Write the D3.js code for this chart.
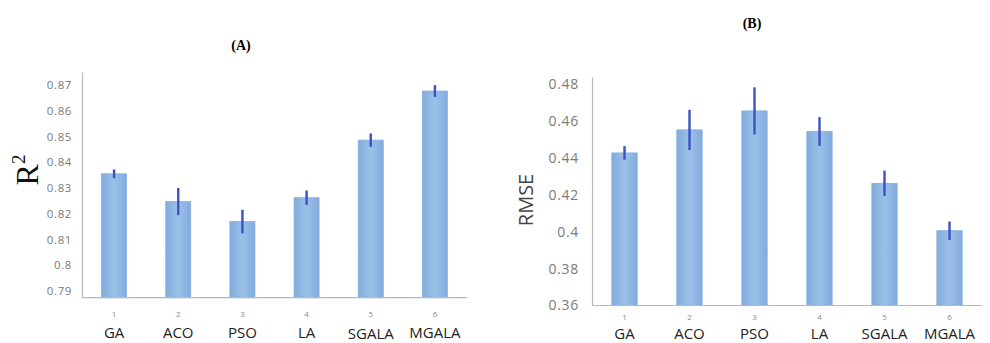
<!DOCTYPE html>
<html>
<head>
<meta charset="utf-8">
<script src="https://cdn.jsdelivr.net/npm/d3@7"></script>
<style>
  html, body { margin: 0; padding: 0; background: #fff; }
  svg { display: block; }
</style>
</head>
<body>
<svg id="chart" width="990" height="343"></svg>
<script>
// Algorithms compared in both panels
const categories = ["GA", "ACO", "PSO", "LA", "SGALA", "MGALA"];
const indices = ["1", "2", "3", "4", "5", "6"];

// Panel A: coefficient of determination (mean and error)
const r2Values = [0.8355, 0.8247, 0.8169, 0.8262, 0.8486, 0.8677];
const r2Errors = [0.0017, 0.0053, 0.0046, 0.0028, 0.0026, 0.0023];
const r2Ticks = [0.79, 0.80, 0.81, 0.82, 0.83, 0.84, 0.85, 0.86, 0.87];

// Panel B: root mean squared error (mean and error)
const rmseValues = [0.4428, 0.4553, 0.4656, 0.4544, 0.4263, 0.4006];
const rmseErrors = [0.0037, 0.0109, 0.0128, 0.0078, 0.0069, 0.0050];
const rmseTicks = [0.36, 0.38, 0.40, 0.42, 0.44, 0.46, 0.48];

const svg = d3.select("#chart");

// Soft horizontal shading for the bars
const defs = svg.append("defs");
const grad = defs.append("linearGradient").attr("id", "barFill")
  .attr("x1", "0%").attr("x2", "100%").attr("y1", "0%").attr("y2", "0%");
grad.append("stop").attr("offset", "0%").attr("stop-color", "#82abdd");
grad.append("stop").attr("offset", "50%").attr("stop-color", "#9cc0e8");
grad.append("stop").attr("offset", "100%").attr("stop-color", "#82abdd");

function panel(opts) {
  const g = svg.append("g");
  const x = d3.scaleBand().domain(categories).range(opts.xRange)
    .paddingInner(0.61).paddingOuter(0.305);
  const y = d3.scaleLinear().domain(opts.yDomain).range(opts.yRange);
  const base = y(opts.yDomain[0]);

  // bars
  g.selectAll("rect.bar").data(opts.values).join("rect")
    .attr("class", "bar")
    .attr("x", (d, i) => x(categories[i]))
    .attr("width", x.bandwidth())
    .attr("y", d => y(d))
    .attr("height", d => base - y(d))
    .attr("fill", "url(#barFill)")
    .attr("stroke", "#88b0e0")
    .attr("stroke-width", 0.8);

  // error bars
  g.selectAll("line.err").data(opts.values).join("line")
    .attr("class", "err")
    .attr("x1", (d, i) => x(categories[i]) + x.bandwidth() / 2)
    .attr("x2", (d, i) => x(categories[i]) + x.bandwidth() / 2)
    .attr("y1", (d, i) => y(d + opts.errors[i]))
    .attr("y2", (d, i) => y(d - opts.errors[i]))
    .attr("stroke", "#3a52c6")
    .attr("stroke-width", 2.4);

  // y axis
  const yAxis = d3.axisLeft(y).tickValues(opts.ticks).tickSize(0)
    .tickPadding(opts.tickPad).tickFormat(d3.format(""));
  const ya = g.append("g").attr("transform", `translate(${opts.xRange[0]},0)`).call(yAxis);
  ya.select(".domain").attr("stroke", "#b8b8b8").attr("stroke-width", 1.2);
  ya.selectAll("text")
    .attr("font-family", "'Open Sans', sans-serif")
    .attr("font-size", opts.tickFont)
    .attr("letter-spacing", opts.tickSpacing)
    .attr("fill", "#7a7a7a");

  // x axis line
  g.append("line")
    .attr("x1", opts.xRange[0]).attr("x2", opts.xRange[1])
    .attr("y1", base).attr("y2", base)
    .attr("stroke", "#b8b8b8").attr("stroke-width", 1.2);

  // index numbers under bars
  g.selectAll("text.idx").data(indices).join("text")
    .attr("class", "idx")
    .attr("x", (d, i) => x(categories[i]) + x.bandwidth() / 2)
    .attr("y", opts.idxY)
    .attr("text-anchor", "middle")
    .attr("font-family", "'Open Sans', sans-serif")
    .attr("font-size", 8)
    .attr("fill", "#8a8a8a")
    .text(d => d);

  // algorithm names
  g.selectAll("text.cat").data(categories).join("text")
    .attr("class", "cat")
    .attr("x", (d, i) => x(d) + x.bandwidth() / 2)
    .attr("y", d => d === "SGALA" ? opts.catY + opts.sgalaDrop : opts.catY)
    .attr("text-anchor", "middle")
    .attr("font-family", "'Open Sans', sans-serif")
    .attr("font-size", opts.catFont)
    .attr("fill", "#222")
    .text(d => d);

  // panel title
  g.append("text")
    .attr("x", opts.titleX).attr("y", opts.titleY)
    .attr("text-anchor", "middle")
    .attr("font-family", "'Liberation Serif', 'Times New Roman', serif")
    .attr("font-weight", "bold")
    .attr("font-size", 14)
    .attr("fill", "#000")
    .text(opts.title);

  return g;
}

const gA = panel({
  xRange: [82, 467], yDomain: [0.7873, 0.8751], yRange: [297.7, 72],
  values: r2Values, errors: r2Errors, ticks: r2Ticks,
  tickPad: 10, tickFont: 11.5, tickSpacing: 0.6,
  idxY: 317, catY: 337.5, catFont: 15, sgalaDrop: 1,
  title: "(A)", titleX: 241, titleY: 50
});

const gB = panel({
  xRange: [592, 982], yDomain: [0.36, 0.484], yRange: [305.5, 77],
  values: rmseValues, errors: rmseErrors, ticks: rmseTicks,
  tickPad: 13, tickFont: 14, tickSpacing: 0.7,
  idxY: 320, catY: 338.5, catFont: 15, sgalaDrop: 0,
  title: "(B)", titleX: 752, titleY: 28
});

// y axis titles
const r2Label = svg.append("text")
  .attr("transform", "translate(38,170) rotate(-90)")
  .attr("text-anchor", "middle")
  .attr("font-family", "'Liberation Serif', 'Times New Roman', serif")
  .attr("font-size", 32)
  .attr("fill", "#111");
r2Label.append("tspan").text("R");
r2Label.append("tspan").attr("font-size", 19).attr("dy", -13).text("2");

svg.append("text")
  .attr("transform", "translate(533,200) rotate(-90)")
  .attr("text-anchor", "middle")
  .attr("font-family", "'Open Sans', sans-serif")
  .attr("font-size", 20)
  .attr("fill", "#444")
  .text("RMSE");
</script>
</body>
</html>
